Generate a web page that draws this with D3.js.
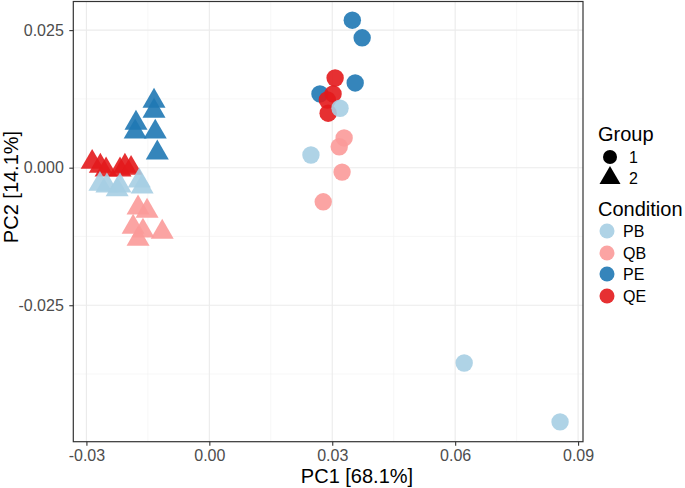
<!DOCTYPE html>
<html>
<head>
<meta charset="utf-8">
<script src="https://cdn.jsdelivr.net/npm/d3@7"></script>
<style>
  html, body { margin: 0; padding: 0; background: #fff; }
  svg { display: block; font-family: "Liberation Sans", Arial, Helvetica, sans-serif; }
</style>
</head>
<body>
<svg id="chart" width="685" height="488"></svg>
<script>
// ---- data ----
const conditions = ["PB", "QB", "PE", "QE"];
const conditionColors = ["#A6CEE3", "#FB9A99", "#1F78B4", "#E31A1C"];
const groups = ["1", "2"];
const drawOrder = ["PE", "QE", "PB", "QB"];

// Group 1 (circles)
const g1_PE = [[0.0349, 0.0268], [0.0373, 0.0236], [0.0356, 0.0154], [0.0270, 0.0134]];
const g1_QE = [[0.0307, 0.0163], [0.0302, 0.0134], [0.0288, 0.0123], [0.0290, 0.0099]];
const g1_PB = [[0.0319, 0.0108], [0.0248, 0.0023], [0.0622, -0.0355], [0.0856, -0.0462]];
const g1_QB = [[0.0329, 0.0054], [0.0317, 0.0038], [0.0324, -0.0008], [0.0278, -0.0062]];
// Group 2 (triangles)
const g2_PE = [[-0.0135, 0.0121], [-0.0135, 0.0103], [-0.0179, 0.0081], [-0.0181, 0.0065], [-0.0132, 0.0065], [-0.0127, 0.0027]];
const g2_QE = [[-0.0286, 0.0010], [-0.0266, 0.0003], [-0.0252, -0.0004], [-0.0218, -0.0004], [-0.0206, 0.0003], [-0.0191, -0.0001]];
const g2_PB = [[-0.0267, -0.0030], [-0.0250, -0.0033], [-0.0225, -0.0040], [-0.0218, -0.0033], [-0.0171, -0.0024], [-0.0164, -0.0035]];
const g2_QB = [[-0.0174, -0.0073], [-0.0152, -0.0079], [-0.0186, -0.0108], [-0.0162, -0.0115], [-0.0115, -0.0117], [-0.0174, -0.0130]];

const xTicks = [-0.03, 0.00, 0.03, 0.06, 0.09];
const xTickLabels = ["-0.03", "0.00", "0.03", "0.06", "0.09"];
const yTicks = [-0.025, 0.000, 0.025];
const yTickLabels = ["-0.025", "0.000", "0.025"];
const xMinor = [-0.015, 0.015, 0.045, 0.075];
const yMinor = [-0.0375, -0.0125, 0.0125];
const xDomain = [-0.0332, 0.0912];
const yDomain = [-0.0498, 0.0302];
const xTitle = "PC1 [68.1%]";
const yTitle = "PC2 [14.1%]";

// ---- build rows ----
const sets = {
  "1": { PE: g1_PE, QE: g1_QE, PB: g1_PB, QB: g1_QB },
  "2": { PE: g2_PE, QE: g2_QE, PB: g2_PB, QB: g2_QB }
};
const rows = [];
groups.forEach(g => drawOrder.forEach(c => sets[g][c].forEach(p => rows.push({ group: g, cond: c, x: p[0], y: p[1] }))));

// ---- layout ----
const panel = { left: 73.3, right: 583, top: 1.5, bottom: 441.7 };
const svg = d3.select("#chart");
const x = d3.scaleLinear().domain(xDomain).range([panel.left, panel.right]);
const y = d3.scaleLinear().domain(yDomain).range([panel.bottom, panel.top]);
const color = d3.scaleOrdinal().domain(conditions).range(conditionColors);
const circleArea = Math.PI * 8.7 * 8.7;
const triArea = Math.sqrt(3) / 4 * 23 * 23;
const shape = d3.scaleOrdinal().domain(groups).range([d3.symbolCircle, d3.symbolTriangle]);
const area = d3.scaleOrdinal().domain(groups).range([circleArea, triArea]);

// grid
const grid = svg.append("g");
grid.selectAll("line.xmin").data(xMinor).join("line")
  .attr("x1", d => x(d)).attr("x2", d => x(d)).attr("y1", panel.top).attr("y2", panel.bottom)
  .attr("stroke", "#F2F2F2").attr("stroke-width", 0.6);
grid.selectAll("line.ymin").data(yMinor).join("line")
  .attr("y1", d => y(d)).attr("y2", d => y(d)).attr("x1", panel.left).attr("x2", panel.right)
  .attr("stroke", "#F2F2F2").attr("stroke-width", 0.6);
grid.selectAll("line.xmaj").data(xTicks).join("line")
  .attr("x1", d => x(d)).attr("x2", d => x(d)).attr("y1", panel.top).attr("y2", panel.bottom)
  .attr("stroke", "#EBEBEB").attr("stroke-width", 1.1);
grid.selectAll("line.ymaj").data(yTicks).join("line")
  .attr("y1", d => y(d)).attr("y2", d => y(d)).attr("x1", panel.left).attr("x2", panel.right)
  .attr("stroke", "#EBEBEB").attr("stroke-width", 1.1);

// points
svg.append("g").selectAll("path").data(rows).join("path")
  .attr("transform", d => `translate(${x(d.x)},${y(d.y)})`)
  .attr("d", d => d3.symbol().type(shape(d.group)).size(area(d.group))())
  .attr("fill", d => color(d.cond))
  .attr("fill-opacity", 0.9);

// border
svg.append("rect")
  .attr("x", panel.left).attr("y", panel.top)
  .attr("width", panel.right - panel.left).attr("height", panel.bottom - panel.top)
  .attr("fill", "none").attr("stroke", "#333333").attr("stroke-width", 1.2);

// axes
const xAxis = svg.append("g").attr("transform", `translate(0,${panel.bottom})`)
  .call(d3.axisBottom(x).tickValues(xTicks).tickFormat((d, i) => xTickLabels[i]).tickSize(4).tickPadding(3.5));
const yAxis = svg.append("g").attr("transform", `translate(${panel.left},0)`)
  .call(d3.axisLeft(y).tickValues(yTicks).tickFormat((d, i) => yTickLabels[i]).tickSize(4).tickPadding(5.5));
[xAxis, yAxis].forEach(a => {
  a.select(".domain").remove();
  a.selectAll(".tick line").attr("stroke", "#333333").attr("stroke-width", 1.1);
  a.selectAll(".tick text").attr("fill", "#4D4D4D").style("font-size", "16px")
    .style("font-family", "'Liberation Sans', Arial, sans-serif");
});

// titles
svg.append("text").attr("x", 357).attr("y", 483).attr("text-anchor", "middle")
  .style("font-size", "20px").attr("fill", "#000").text(xTitle);
svg.append("text").attr("transform", "translate(18,187) rotate(-90)").attr("text-anchor", "middle")
  .style("font-size", "20px").attr("fill", "#000").text(yTitle);

// legend
const lg = svg.append("g");
lg.append("text").attr("x", 598).attr("y", 141).style("font-size", "20px").text("Group");
const gY = [157, 178];
groups.forEach((g, i) => {
  lg.append("path").attr("transform", `translate(610,${gY[i]})`)
    .attr("d", d3.symbol().type(shape(g)).size(i === 0 ? Math.PI * 7 * 7 : Math.sqrt(3) / 4 * 21 * 21)())
    .attr("fill", "#000");
  lg.append("text").attr("x", 629).attr("y", gY[i] + 6).style("font-size", "16px").text(g);
});
lg.append("text").attr("x", 598).attr("y", 216).style("font-size", "20px").text("Condition");
const cY = [231, 253, 274, 296];
conditions.forEach((c, i) => {
  lg.append("circle").attr("cx", 607).attr("cy", cY[i]).attr("r", 7.5)
    .attr("fill", color(c)).attr("fill-opacity", 0.9);
  lg.append("text").attr("x", 623).attr("y", cY[i] + 6).style("font-size", "16px").text(c);
});
</script>
</body>
</html>
